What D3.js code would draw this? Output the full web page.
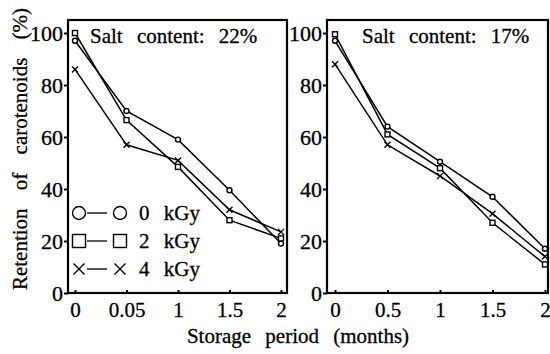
<!DOCTYPE html>
<html>
<head>
<meta charset="utf-8">
<script src="https://cdn.jsdelivr.net/npm/d3@7"></script>
<style>
  body { margin: 0; background: #fff; }
  svg text { font-family: "Liberation Serif", "DejaVu Serif", serif; fill: #000; stroke: #000; stroke-width: 0.3px; }
</style>
</head>
<body>
<div id="chart"></div>
<script>
// data
var doses = ["0 kGy", "2 kGy", "4 kGy"];
var leftLabels = ["0", "0.05", "1", "1.5", "2"];
var rightMonths = [0, 0.5, 1, 1.5, 2];
var yTicks = [0, 20, 40, 60, 80, 100];

// salt content 22%
var left0 = [97, 70, 59, 39.5, 19];
var left2 = [100, 66.5, 48.5, 28, 21];
var left4 = [86, 57, 51, 32, 23.5];

// salt content 17%
var right0 = [97, 64, 50.5, 37, 17];
var right2 = [99.5, 61, 48, 27, 11];
var right4 = [88, 57, 45, 30.5, 14];

var W = 550, H = 354;
var svg = d3.select("#chart").append("svg").attr("width", W).attr("height", H);

var y = d3.scaleLinear().domain([0, 100]).range([293, 33]);

var panels = [
    { x: d3.scalePoint().domain(leftLabels).range([75, 281]), keys: leftLabels,
      series: [left0, left2, left4], frame: [68, 287], title: "Salt content:  22%", titleX: 90 },
    { x: d3.scaleLinear().domain([0, 2]).range([335, 545]), keys: rightMonths,
      series: [right0, right2, right4], frame: [327, 548], title: "Salt content:  17%", titleX: 362 }
];

var frameTop = 20, frameBottom = 293;

var marker = function(g, kind, cx, cy, s) {
    if (kind == 0) {
        g.append("circle").attr("cx", cx).attr("cy", cy).attr("r", s / 2)
            .attr("fill", "#fff").attr("stroke", "#000").attr("stroke-width", 1.4);
    } else if (kind == 1) {
        g.append("rect").attr("x", cx - s / 2).attr("y", cy - s / 2).attr("width", s).attr("height", s)
            .attr("fill", "#fff").attr("stroke", "#000").attr("stroke-width", 1.4);
    } else {
        var h = s / 2;
        g.append("path").attr("d", "M" + (cx - h) + "," + (cy - h) + "L" + (cx + h) + "," + (cy + h) +
            "M" + (cx - h) + "," + (cy + h) + "L" + (cx + h) + "," + (cy - h))
            .attr("stroke", "#000").attr("stroke-width", 1.4).attr("fill", "none");
    }
};

panels.forEach(function(p) {
    var g = svg.append("g");

    // frame
    g.append("rect").attr("x", p.frame[0]).attr("y", frameTop)
        .attr("width", p.frame[1] - p.frame[0]).attr("height", frameBottom - frameTop)
        .attr("fill", "none").attr("stroke", "#000").attr("stroke-width", 2.2);

    // axes
    var ya = g.append("g").attr("transform", "translate(" + p.frame[0] + ",0)")
        .call(d3.axisLeft(y).tickValues(yTicks).tickSize(4).tickPadding(1));
    ya.select(".domain").remove();
    ya.selectAll("text").style("font-size", "22px").attr("dy", "0.36em");
    ya.selectAll("line").attr("stroke-width", 2);

    var xa = g.append("g").attr("transform", "translate(0," + frameBottom + ")")
        .call(d3.axisBottom(p.x).tickValues(p.keys).tickSize(-3).tickPadding(9)
            .tickFormat(function(d) { return String(d); }));
    xa.select(".domain").remove();
    xa.selectAll("text").style("font-size", "21px");
    xa.selectAll("line").attr("stroke-width", 2);

    // title
    g.append("text").attr("x", p.titleX).attr("y", 43)
        .style("font-size", "21px").style("word-spacing", "9px").text(p.title);

    // lines and markers
    var line = d3.line().x(function(d, i) { return p.x(p.keys[i]); }).y(function(d) { return y(d); });
    p.series.forEach(function(s, k) {
        g.append("path").datum(s).attr("d", line)
            .attr("fill", "none").attr("stroke", "#000").attr("stroke-width", 1.5);
    });
    p.series.forEach(function(s, k) {
        s.forEach(function(v, i) {
            marker(g, k, p.x(p.keys[i]), y(v), k == 2 ? 6 : 5);
        });
    });
});

// legend
var lg = svg.append("g");
doses.forEach(function(d, k) {
    var cy = 213 + k * 28;
    lg.append("line").attr("x1", 87).attr("x2", 107).attr("y1", cy).attr("y2", cy)
        .attr("stroke", "#000").attr("stroke-width", 1.3);
    marker(lg, k, 79, cy, k == 2 ? 11 : 13);
    marker(lg, k, 120, cy, k == 2 ? 11 : 13);
    lg.append("text").attr("x", 139).attr("y", cy + 7)
        .style("font-size", "21px").style("word-spacing", "9px").text(d);
});

// axis titles
svg.append("text").attr("transform", "translate(27,149) rotate(-90)")
    .attr("text-anchor", "middle").style("font-size", "21px").style("word-spacing", "13px")
    .text("Retention of carotenoids (%)");

svg.append("text").attr("x", 298).attr("y", 343)
    .attr("text-anchor", "middle").style("font-size", "21px").style("word-spacing", "9px")
    .text("Storage period (months)");
</script>
</body>
</html>
